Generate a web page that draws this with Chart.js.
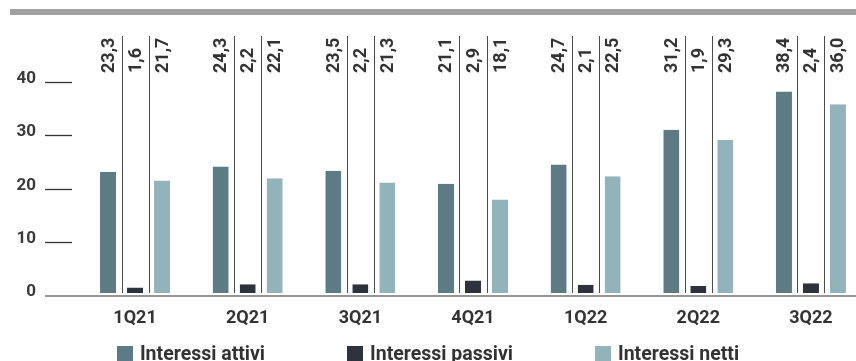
<!DOCTYPE html>
<html lang="it">
<head>
<meta charset="utf-8">
<title>Interessi attivi, passivi e netti</title>
<script src="https://cdn.jsdelivr.net/npm/chart.js@4/dist/chart.umd.min.js"></script>
<style>
  html, body { margin: 0; padding: 0; background: #ffffff; overflow: hidden; width: 856px; height: 361px; }
  #wrap { position: relative; width: 856px; height: 361px; }
  #band { position: absolute; left: 10px; top: 9px; width: 846px; height: 6px; background: #a0a0a0; }
  #chart { position: absolute; left: 0; top: 0; }
  #legend { position: absolute; left: 0; top: 344px; width: 856px; display: flex; justify-content: center; gap: 82px;
            font-family: Roboto, "DejaVu Sans", sans-serif; font-weight: 700; font-size: 19.5px; color: #333333; }
  .item { display: flex; align-items: center; white-space: nowrap; line-height: 20px; }
  .swatch { width: 16px; height: 16px; margin-right: 7px; }
</style>
</head>
<body>
<div id="wrap">
  <div id="band"></div>
  <canvas id="chart" width="880" height="361"></canvas>
  <div id="legend"></div>
</div>
<script>
// Quarterly interest figures (billions)
const categories = ['1Q21', '2Q21', '3Q21', '4Q21', '1Q22', '2Q22', '3Q22'];
const interessiAttivi = [23.3, 24.3, 23.5, 21.1, 24.7, 31.2, 38.4];
const interessiPassivi = [1.6, 2.2, 2.2, 2.9, 2.1, 1.9, 2.4];
const interessiNetti = [21.7, 22.1, 21.3, 18.1, 22.5, 29.3, 36.0];
const yTicks = [0, 10, 20, 30, 40];

const seriesNames = ['Interessi attivi', 'Interessi passivi', 'Interessi netti'];
const seriesColors = ['#5d7b85', '#2d323d', '#93b3bb'];
const seriesValues = [interessiAttivi, interessiPassivi, interessiNetti];

const FONT = 'Roboto, "DejaVu Sans", sans-serif';
const fmt = v => v.toFixed(1).replace('.', ',');

// Axis dashes, baseline, separators and rotated value labels
const decorations = {
  id: 'decorations',
  afterDatasetsDraw(chart) {
    const ctx = chart.ctx;
    const y = chart.scales.y;
    ctx.save();

    // y tick labels and short dashes
    ctx.font = 'bold 17px ' + FONT;
    ctx.fillStyle = '#3a3a3a';
    ctx.textAlign = 'right';
    ctx.textBaseline = 'alphabetic';
    yTicks.forEach(t => {
      const py = Math.round(y.getPixelForValue(t));
      ctx.fillText(String(t), 36, py);
      if (t !== 0) {
        ctx.strokeStyle = '#333333';
        ctx.lineWidth = 1.3;
        ctx.beginPath();
        ctx.moveTo(45, py - 0.5);
        ctx.lineTo(72, py - 0.5);
        ctx.stroke();
      }
    });

    // baseline
    const by = y.getPixelForValue(0);
    ctx.strokeStyle = '#707070';
    ctx.lineWidth = 1.5;
    ctx.beginPath();
    ctx.moveTo(45, by);
    ctx.lineTo(chart.width, by);
    ctx.stroke();

    const metas = [0, 1, 2].map(i => chart.getDatasetMeta(i));

    // thin separators between bars of the same quarter
    ctx.strokeStyle = '#4a4a4a';
    ctx.lineWidth = 1;
    categories.forEach((c, i) => {
      for (let k = 0; k < 2; k++) {
        const sx = Math.round((metas[k].data[i].x + metas[k + 1].data[i].x) / 2) + 0.5;
        ctx.beginPath();
        ctx.moveTo(sx, 36);
        ctx.lineTo(sx, by - 3);
        ctx.stroke();
      }
    });

    // rotated value labels above every bar
    ctx.font = 'bold 18px ' + FONT;
    ctx.fillStyle = '#333333';
    ctx.textAlign = 'left';
    ctx.textBaseline = 'alphabetic';
    metas.forEach((meta, k) => {
      meta.data.forEach((bar, i) => {
        ctx.save();
        ctx.translate(bar.x + 5.5, 73);
        ctx.rotate(-Math.PI / 2);
        ctx.fillText(fmt(seriesValues[k][i]), 0, 0);
        ctx.restore();
      });
    });

    ctx.restore();
  }
};

new Chart(document.getElementById('chart'), {
  type: 'bar',
  data: {
    labels: categories,
    datasets: seriesValues.map((vals, k) => ({
      label: seriesNames[k],
      data: vals,
      backgroundColor: seriesColors[k],
      borderColor: '#ffffff',
      borderWidth: { top: 0, right: 0, bottom: 3, left: 0 },
      borderSkipped: false,
      categoryPercentage: 0.719,
      barPercentage: 0.593
    }))
  },
  options: {
    responsive: false,
    animation: false,
    devicePixelRatio: 1,
    layout: { padding: { left: 78.7, right: 12.7, top: 83, bottom: 0 } },
    plugins: { legend: { display: false }, tooltip: { enabled: false } },
    scales: {
      x: {
        grid: { display: false },
        border: { display: false },
        ticks: {
          color: '#333333',
          font: { family: FONT, size: 18, weight: 'bold' },
          padding: 4,
          maxRotation: 0,
          autoSkip: false
        },
        afterFit(scale) { scale.height = 65; }
      },
      y: {
        display: false,
        min: 0,
        max: 40
      }
    }
  },
  plugins: [decorations]
});

// legend
const legend = document.getElementById('legend');
seriesNames.forEach((name, k) => {
  const item = document.createElement('div');
  item.className = 'item';
  const sw = document.createElement('span');
  sw.className = 'swatch';
  sw.style.background = seriesColors[k];
  const tx = document.createElement('span');
  tx.textContent = name;
  item.appendChild(sw);
  item.appendChild(tx);
  legend.appendChild(item);
});
</script>
</body>
</html>
